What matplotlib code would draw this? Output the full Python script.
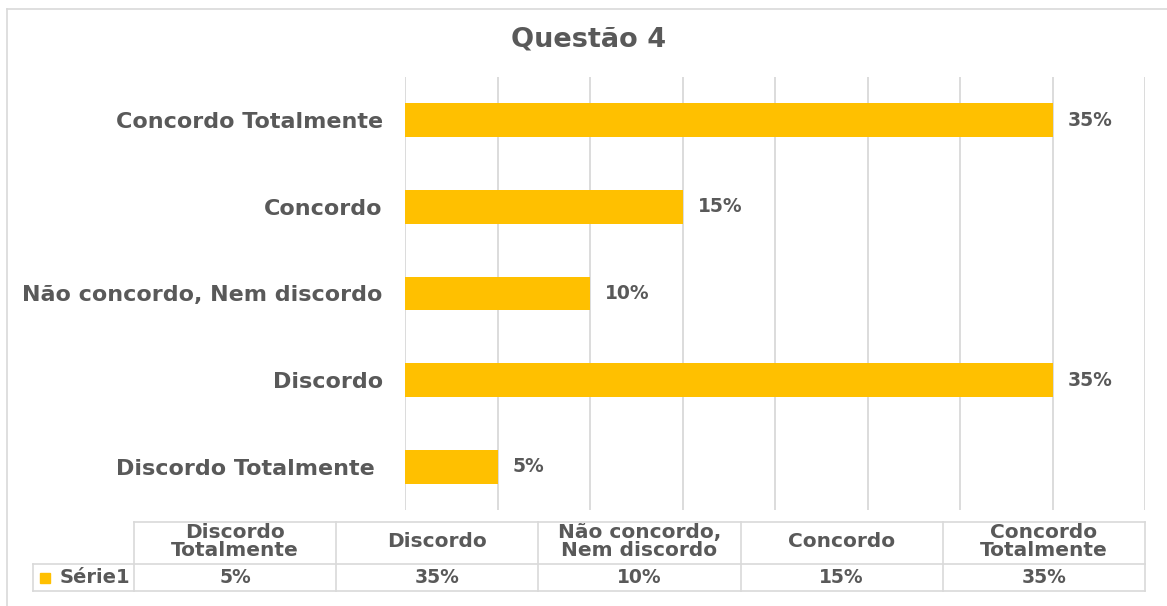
import matplotlib.pyplot as plt
from matplotlib.lines import Line2D

# data
categories = ["Discordo Totalmente ", "Discordo", "Não concordo, Nem discordo",
              "Concordo", "Concordo Totalmente"]
table_headers = ["Discordo\nTotalmente", "Discordo", "Não concordo,\nNem discordo",
                 "Concordo", "Concordo\nTotalmente"]
values = [5, 35, 10, 15, 35]
series_name = "Série1"
title = "Questão 4"

BAR = "#FFC000"
TXT = "#595959"
GRID = "#D9D9D9"
W, H = 1167, 606

plt.rcParams['font.family'] = ['DejaVu Sans']
fig = plt.figure(figsize=(W / 100, H / 100), dpi=100)

# outer chart border (only top and left visible)
fig.add_artist(Line2D([7 / W, 7 / W], [0, 1 - 9 / H], color=GRID, lw=1.2))
fig.add_artist(Line2D([7 / W, 1], [1 - 9 / H, 1 - 9 / H], color=GRID, lw=1.2))

# bar chart
ax = fig.add_axes([405 / W, 1 - 510 / H, (1145 - 405) / W, (510 - 77) / H])
ypos = list(range(len(categories)))
ax.barh(ypos, values, height=0.39, color=BAR, zorder=3)
ax.set_xlim(0, 40)
ax.set_ylim(-0.5, len(categories) - 0.5)
ax.set_xticks(range(0, 41, 5))
ax.set_xticklabels([])
ax.tick_params(axis="x", length=0)
ax.grid(axis="x", color=GRID, lw=1.3, zorder=0)
ax.set_yticks(ypos)
ax.set_yticklabels(categories, fontsize=16, fontweight="bold", color=TXT)
ax.tick_params(axis="y", length=0, pad=16)
for s in ax.spines.values():
    s.set_visible(False)
for y, v in zip(ypos, values):
    ax.annotate(f"{v}%", (v, y), xytext=(15, 0), textcoords="offset pixels",
                ha="left", va="center", fontsize=13.5, fontweight="bold", color=TXT)

fig.text(589 / W, 1 - 40 / H, title, ha="center", va="center",
         fontsize=19.5, fontweight="bold", color=TXT)

# data table under the chart
tax = fig.add_axes([32.7 / W, 1 - 591 / H, (1145 - 32.7) / W, (591 - 521.7) / H])
n = len(values)
lab_w = (134 - 32.7) / 202.2
tax.set_xlim(-lab_w, n)
tax.set_ylim(0, 1)
tax.axis("off")
div = 27 / 69.3
lk = dict(color=GRID, lw=1.2, clip_on=False)
tax.plot([0, n], [1, 1], **lk)
tax.plot([-lab_w, n], [div, div], **lk)
tax.plot([-lab_w, n], [0, 0], **lk)
tax.plot([-lab_w, -lab_w], [0, div], **lk)
for i in range(n + 1):
    tax.plot([i, i], [0, 1], **lk)
for i, (h, v) in enumerate(zip(table_headers, values)):
    tax.text(i + 0.5, (1 + div) / 2 + 0.02, h, ha="center", va="center", fontsize=14.5,
             fontweight="bold", color=TXT, linespacing=0.95)
    tax.text(i + 0.5, div / 2, f"{v}%", ha="center", va="center", fontsize=13.5,
             fontweight="bold", color=TXT)
tax.plot([-lab_w + 12 / 202.2], [div / 2], marker="s", ms=7.5, color=BAR, clip_on=False)
tax.text(-lab_w + 27 / 202.2, div / 2, series_name, ha="left", va="center",
         fontsize=14, fontweight="bold", color=TXT)

fig.savefig("out.png", dpi=100, facecolor="white")
